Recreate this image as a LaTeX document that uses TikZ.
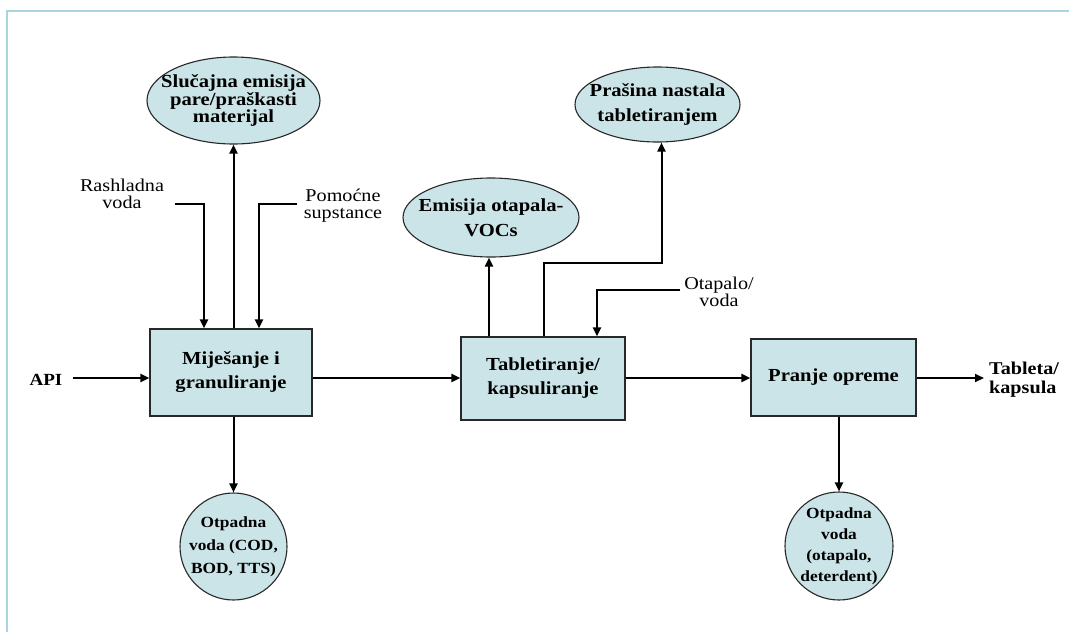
\documentclass[tikz,border=0pt]{standalone}
\usepackage{fontspec}
\setmainfont{Liberation Serif}[FakeStretch=1.12]
\usetikzlibrary{arrows.meta,shapes.geometric}
\definecolor{fillc}{RGB}{202,228,231}
\definecolor{framec}{RGB}{168,214,222}
\definecolor{edgec}{RGB}{40,40,40}
\tikzset{
  procbox/.style={draw=edgec, line width=1.2pt, fill=fillc, align=center,
    font=\bfseries\fontsize{18.4}{24}\selectfont, inner sep=0pt},
  outshape/.style={ellipse, draw=edgec, line width=1.1pt, fill=fillc, inner sep=0pt},
  outcirc/.style={circle, draw=edgec, line width=1.1pt, fill=fillc, inner sep=0pt},
  outtext/.style={align=center, font=\bfseries\fontsize{18.4}{17.5}\selectfont, inner sep=0pt},
  smalltext/.style={align=center, font=\bfseries\fontsize{15.5}{21}\selectfont, inner sep=0pt},
  inlabel/.style={align=center, font=\fontsize{18}{17}\selectfont, inner sep=0pt},
  endlabel/.style={align=left, font=\bfseries\fontsize{18}{19}\selectfont, inner sep=0pt},
  flow/.style={-{Triangle[length=9pt,width=8pt]}, line width=2pt},
}
\begin{document}
\begin{tikzpicture}[x=1pt,y=-1pt]
\useasboundingbox (0,0) rectangle (1069,632);
\draw[framec, line width=1.5pt] (7,632) -- (7,11) -- (1069,11);

% process boxes
\node[procbox, minimum width=162pt, minimum height=87pt] (mix) at (231,372.5) {Miješanje i\\granuliranje};
\node[procbox, minimum width=164pt, minimum height=83pt] (tab) at (543,378.5) {Tabletiranje/\\kapsuliranje};
\node[procbox, minimum width=165pt, minimum height=77pt] (wash) at (833.5,377.5) {Pranje opreme};

% outputs
\node[outshape, minimum width=173pt, minimum height=87pt] (e1) at (233.5,100.5) {};
\node[outtext] (e1t) at (e1) {Slučajna emisija\\pare/praškasti\\materijal};
\node[outshape, minimum width=176pt, minimum height=79pt] (e2) at (491,217.5) {};
\node[outtext, font=\bfseries\fontsize{18.4}{25}\selectfont] (e2t) at (e2) {Emisija otapala-\\VOCs};
\node[outshape, minimum width=165pt, minimum height=75pt] (e3) at (657.5,104.5) {};
\node[outtext, font=\bfseries\fontsize{18.4}{25}\selectfont] (e3t) at (e3) {Prašina nastala\\tabletiranjem};
\node[outcirc, minimum size=107pt] (c1) at (233.5,546.5) {};
\node[smalltext, font=\bfseries\fontsize{15.5}{23}\selectfont] (c1t) at (c1) {Otpadna\\voda (COD,\\BOD, TTS)};
\node[outcirc, minimum size=108pt] (c2) at (839,546) {};
\node[smalltext] (c2t) at (c2) {Otpadna\\voda\\(otapalo,\\deterdent)};

% inputs and ends
\node[endlabel, font=\bfseries\fontsize{17}{19}\selectfont] (api) at (46,380) {API};
\node[endlabel, anchor=west] (prod) at (989,380) {Tableta/\\kapsula};
\node[inlabel] (rash) at (122,194) {Rashladna\\voda};
\node[inlabel] (pom) at (343,206) {Pomoćne\\supstance};
\node[inlabel] (ot) at (719,292) {Otapalo/\\voda};
\coordinate (rashS) at (175,204);
\coordinate (pomS) at (297,204);
\coordinate (otS) at (680,290);
\coordinate (e3in) at ([xshift=4pt]e3.south);

% main flow
\draw[flow] ([xshift=10pt]api.east |- 0,378) -- (mix.west |- 0,378);
\draw[flow] (mix.east |- 0,378) -- (tab.west |- 0,378);
\draw[flow] (tab.east |- 0,378) -- (wash.west |- 0,378);
\draw[flow] (wash.east |- 0,378) -- ([xshift=-5pt]prod.west |- 0,378);

% side flows
\draw[flow] (mix.north -| e1.south) -- (e1.south);
\draw[flow] (rashS) -| ([xshift=-27pt]mix.north);
\draw[flow] (pomS) -| ([xshift=28pt]mix.north);
\draw[flow] (mix.south -| c1.north) -- (c1.north);
\draw[flow] ([xshift=-54pt]tab.north) -- ([xshift=-54pt]tab.north |- e2.south);
\draw[flow] ([xshift=1pt]tab.north) |- (e3in |- 0,263) -- (e3in);
\draw[flow] (otS) -| ([xshift=54pt]tab.north);
\draw[flow] (c2.north |- wash.south) -- (c2.north);
\end{tikzpicture}
\end{document}
